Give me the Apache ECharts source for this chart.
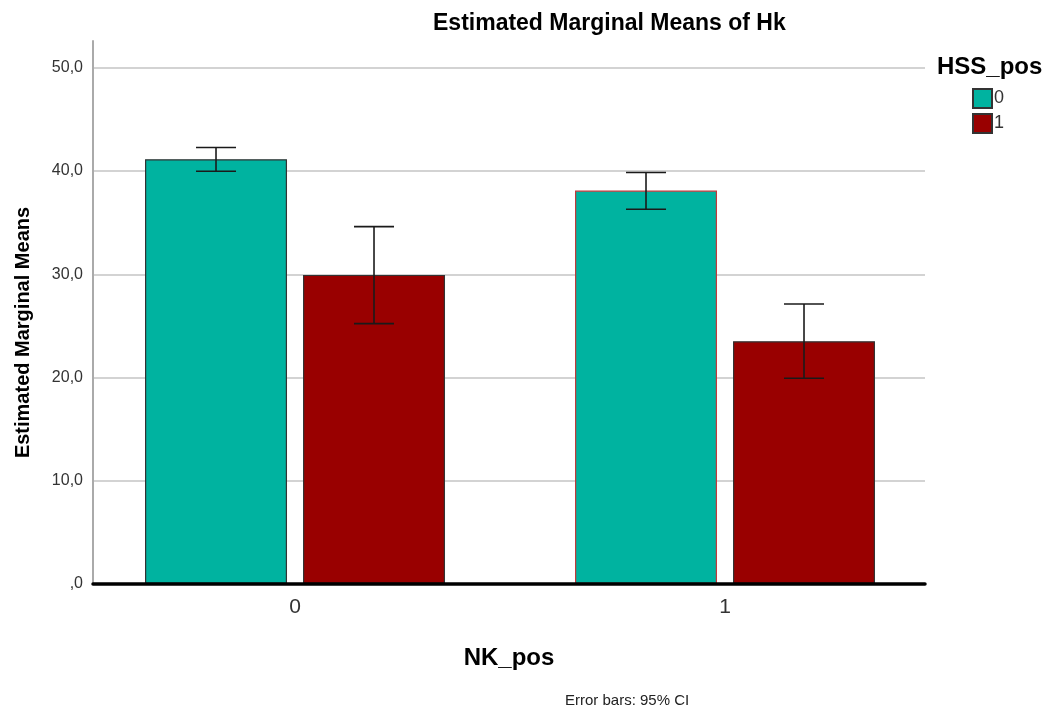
<!DOCTYPE html>
<html>
<head>
<meta charset="utf-8">
<script src="https://cdn.jsdelivr.net/npm/echarts@6/dist/echarts.min.js"></script>
<style>html,body{margin:0;padding:0;background:#fff}#c{width:1045px;height:713px}</style>
</head>
<body>
<div id="c"></div>
<script>
const categories = [0, 1];
const categoryLabels = ['0', '1'];
const legendNames = ['0', '1'];
const meansHSS0 = [41.15, 38.11];
const meansHSS1 = [29.94, 23.52];
const lowerHSS0 = [39.99, 36.30];
const upperHSS0 = [42.28, 39.86];
const lowerHSS1 = [25.22, 19.93];
const upperHSS1 = [34.62, 27.13];
const yTicks = [0, 10, 20, 30, 40, 50];

const FONT = '"Liberation Sans", Arial, sans-serif';
const TEAL = '#00B3A0';
const RED = '#990000';
const BAR_W = 142;
const BAR_GAP = 16;

function fmt(v) {
  return v.toFixed(1).replace('.', ',').replace(/^0/, '');
}

function errRender(sign) {
  return function (params, api) {
    const c = api.value(0);
    const lo = api.coord([c, api.value(1)]);
    const hi = api.coord([c, api.value(2)]);
    const x = lo[0] + sign * (BAR_W + BAR_GAP) / 2;
    const cap = 20;
    const st = { stroke: '#1a1a1a', lineWidth: 1.6 };
    return {
      type: 'group',
      children: [
        { type: 'line', shape: { x1: x, y1: hi[1], x2: x, y2: lo[1] }, style: st },
        { type: 'line', shape: { x1: x - cap, y1: hi[1], x2: x + cap, y2: hi[1] }, style: st },
        { type: 'line', shape: { x1: x - cap, y1: lo[1], x2: x + cap, y2: lo[1] }, style: st }
      ]
    };
  };
}

const chart = echarts.init(document.getElementById('c'));
chart.setOption({
  animation: false,
  textStyle: { fontFamily: FONT },
  title: [
    { text: 'Estimated Marginal Means of Hk', left: 433, top: 12, padding: 0,
      textStyle: { fontFamily: FONT, fontSize: 23, fontWeight: 'bold', color: '#000' } },
    { text: 'HSS_pos', left: 937, top: 55, padding: 0,
      textStyle: { fontFamily: FONT, fontSize: 24, fontWeight: 'bold', color: '#000' } },
    { text: 'Error bars: 95% CI', left: 565, top: 693, padding: 0,
      textStyle: { fontFamily: FONT, fontSize: 15, fontWeight: 'normal', color: '#222' } }
  ],
  legend: {
    data: legendNames,
    orient: 'vertical',
    left: 972, top: 88, padding: 0,
    itemWidth: 19, itemHeight: 19, itemGap: 4,
    icon: 'rect',
    textStyle: { fontFamily: FONT, fontSize: 18, color: '#333', padding: [0, 0, 0, -3] }
  },
  grid: { left: 93, right: 120, top: 41, bottom: 129 },
  xAxis: {
    type: 'value',
    min: -0.4698, max: 1.4651,
    name: 'NK_pos',
    nameLocation: 'middle',
    nameGap: 62,
    nameTextStyle: { fontFamily: FONT, fontSize: 24, fontWeight: 'bold', color: '#000' },
    axisLine: { show: true, onZero: false, lineStyle: { color: '#000', width: 3.5 } },
    axisTick: { show: false },
    splitLine: { show: false },
    axisLabel: {
      fontFamily: FONT, fontSize: 21, color: '#333', margin: 13,
      customValues: categories,
      formatter: function (v) { const i = categories.indexOf(v); return i >= 0 ? categoryLabels[i] : ''; }
    },
    z: 5
  },
  yAxis: {
    type: 'value',
    min: 0, max: 52.6, interval: 10,
    name: 'Estimated Marginal Means',
    nameLocation: 'middle',
    nameGap: 60,
    nameTextStyle: { fontFamily: FONT, fontSize: 20, fontWeight: 'bold', color: '#000', padding: [0, 40, 0, 0] },
    axisLine: { show: true, onZero: false, lineStyle: { color: '#aaa', width: 2 } },
    axisTick: { show: false },
    axisLabel: {
      fontFamily: FONT, fontSize: 16, color: '#333', margin: 10, showMaxLabel: false,
      formatter: function (v) { return yTicks.indexOf(v) >= 0 ? fmt(v) : ''; }
    },
    splitLine: { show: true, showMinLine: false, showMaxLine: false, lineStyle: { color: '#c4c4c4', width: 1.5 } }
  },
  series: [
    {
      name: legendNames[0], type: 'bar', barWidth: BAR_W, barGap: (BAR_GAP / BAR_W * 100) + '%',
      itemStyle: { color: TEAL, borderColor: '#333', borderWidth: 1.2 },
      data: meansHSS0.map(function (v, i) {
        const item = { value: [categories[i], v] };
        if (i === 1) item.itemStyle = { borderColor: '#c0393b' };
        return item;
      })
    },
    {
      name: legendNames[1], type: 'bar', barWidth: BAR_W,
      itemStyle: { color: RED, borderColor: '#333', borderWidth: 1.2 },
      data: meansHSS1.map(function (v, i) { return [categories[i], v]; })
    },
    {
      type: 'custom', renderItem: errRender(-1), z: 10,
      encode: { x: 0, y: [1, 2] },
      data: categories.map(function (c, i) { return [c, lowerHSS0[i], upperHSS0[i]]; })
    },
    {
      type: 'custom', renderItem: errRender(1), z: 10,
      encode: { x: 0, y: [1, 2] },
      data: categories.map(function (c, i) { return [c, lowerHSS1[i], upperHSS1[i]]; })
    }
  ]
});
</script>
</body>
</html>
